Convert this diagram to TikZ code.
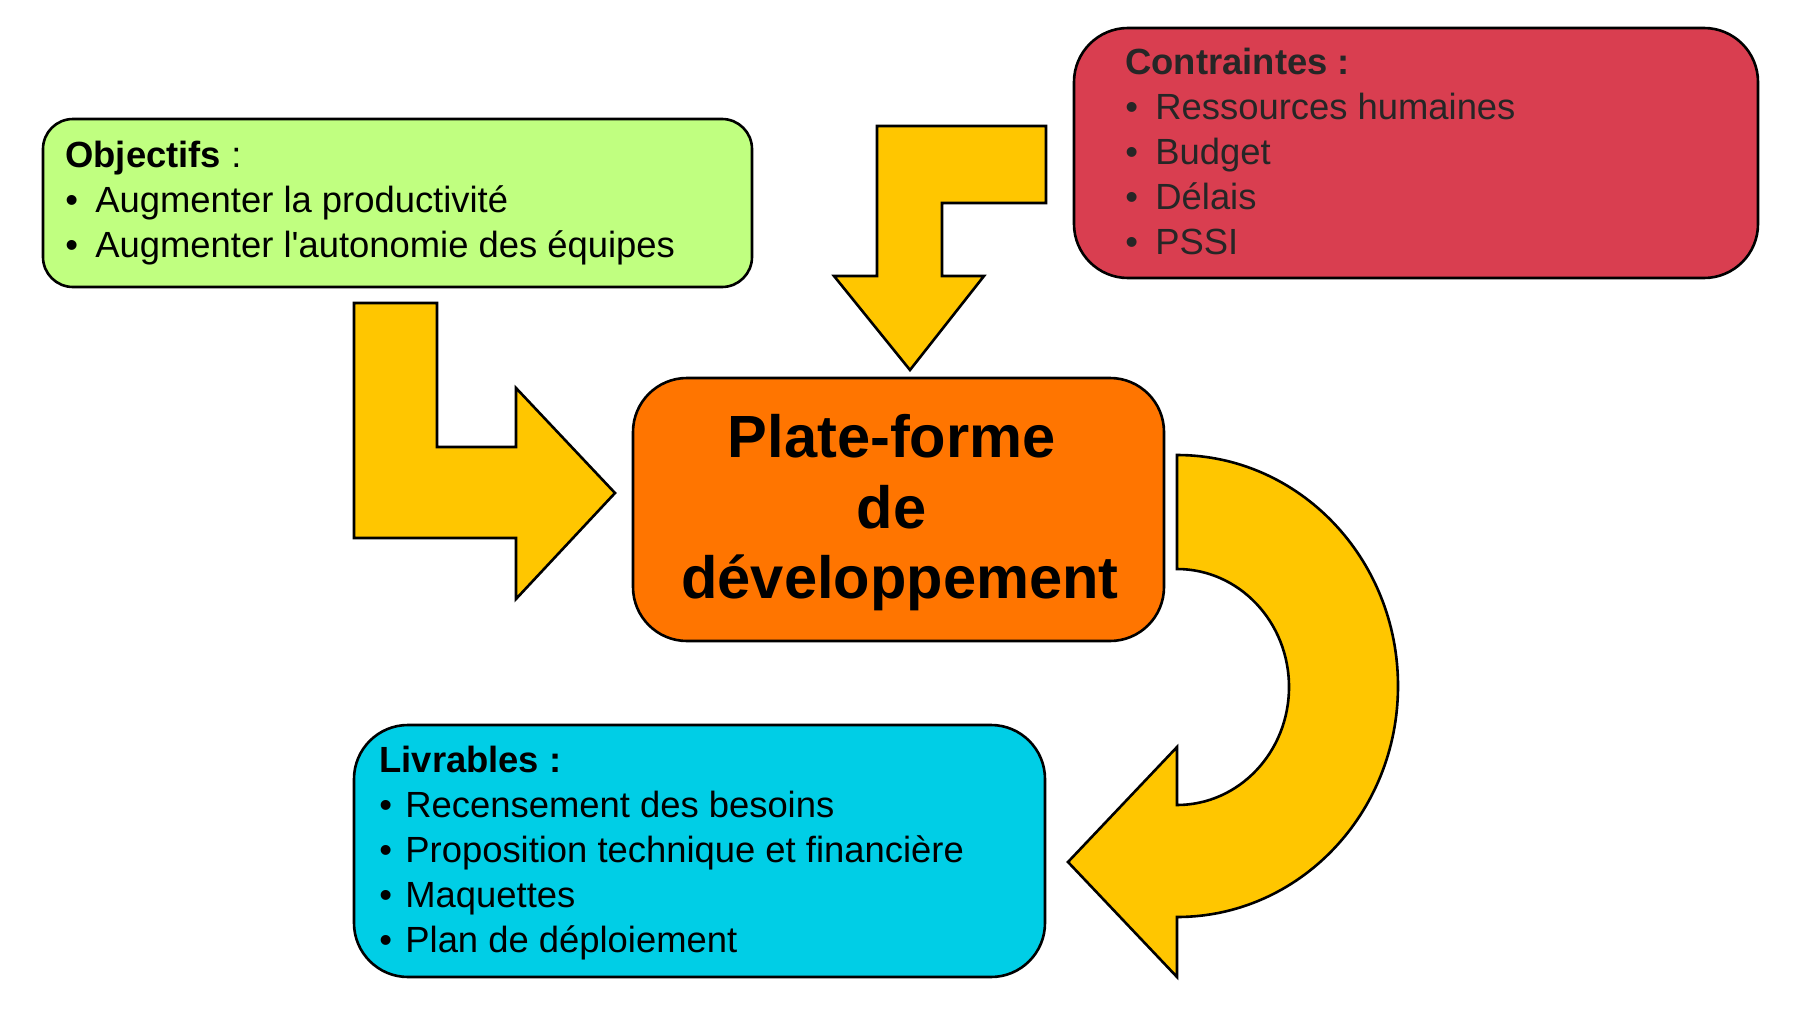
\documentclass[tikz,border=0pt]{standalone}
\usepackage{fontspec}
\newfontfamily\arial{Liberation Sans}
\definecolor{cgreen}{HTML}{C0FF80}
\definecolor{cred}{HTML}{D93E50}
\definecolor{corange}{HTML}{FF7500}
\definecolor{ccyan}{HTML}{00CEE6}
\definecolor{cyellow}{HTML}{FFC600}
\newcommand\mybul[1]{\makebox[#1][l]{•}}
\begin{document}
\begin{tikzpicture}[x=0.5pt,y=-0.5pt,
  box/.style={draw=black, line width=1.3pt, anchor=north west, inner sep=0pt, outer sep=0pt},
  blockarrow/.style={draw=black, fill=cyellow, line width=1.3pt, line join=miter},
  txt/.style={anchor=base west, inner sep=0pt, font=\arial\fontsize{18.2pt}{22pt}\selectfont},
  big/.style={anchor=base, inner sep=0pt, font=\arial\bfseries\fontsize{29.8pt}{36pt}\selectfont}]
\useasboundingbox[fill=white] (0,0) rectangle (1800,1033);

% boxes
\node[box, fill=cgreen, rounded corners=15pt, minimum width=354.5pt, minimum height=84pt] (obj) at (43,119) {};
\node[box, fill=cred, rounded corners=27pt, minimum width=342pt, minimum height=125pt] (con) at (1074,28) {};
\node[box, fill=corange, rounded corners=27pt, minimum width=265.5pt, minimum height=131.5pt] (plat) at (633,378) {};
\node[box, fill=ccyan, rounded corners=27pt, minimum width=345.5pt, minimum height=126pt] (liv) at (354,725) {};

% block arrows
\draw[blockarrow] (354,303) -- (437,303) -- (437,447) -- (516,447) -- (516,388) -- (615,493)
  -- (516,599) -- (516,538) -- (354,538) -- cycle;
\draw[blockarrow] (1046,126) -- (1046,203) -- (942,203) -- (942,276) -- (984,276) -- (910,370)
  -- (834,276) -- (877,276) -- (877,126) -- cycle;
\draw[blockarrow] (1177,455) arc[start angle=-90, end angle=90, x radius=221, y radius=231]
  -- (1177,977) -- (1068,862) -- (1177,747) -- (1177,805)
  arc[start angle=90, end angle=-90, x radius=112, y radius=118] -- cycle;

% Objectifs
\node[txt] (o0) at (65,167) {\textbf{Objectifs} :};
\node[txt] (o1) at (65,212) {\mybul{15pt}Augmenter la productivité};
\node[txt] (o2) at (65,257) {\mybul{15pt}Augmenter l'autonomie des équipes};

% Contraintes
\begin{scope}[every node/.append style={text=black!85}]
\node[txt] (c0) at (1125,74) {\textbf{Contraintes :}};
\node[txt] (c1) at (1125,119) {\mybul{15pt}Ressources humaines};
\node[txt] (c2) at (1125,164) {\mybul{15pt}Budget};
\node[txt] (c3) at (1125,209) {\mybul{15pt}Délais};
\node[txt] (c4) at (1125,254) {\mybul{15pt}PSSI};
\end{scope}

% Plate-forme
\node[big] (p1) at (900,457) {Plate-forme\kern.278em};
\node[big] (p2) at (900,528) {de\kern.278em};
\node[big] (p3) at (900,598) {développement};

% Livrables
\node[txt] (l0) at (379,772) {\textbf{Livrables :}};
\node[txt] (l1) at (379,817) {\mybul{13pt}Recensement des besoins};
\node[txt] (l2) at (379,862) {\mybul{13pt}Proposition technique et financière};
\node[txt] (l3) at (379,907) {\mybul{13pt}Maquettes};
\node[txt] (l4) at (379,952) {\mybul{13pt}Plan de déploiement};
\end{tikzpicture}
\end{document}
